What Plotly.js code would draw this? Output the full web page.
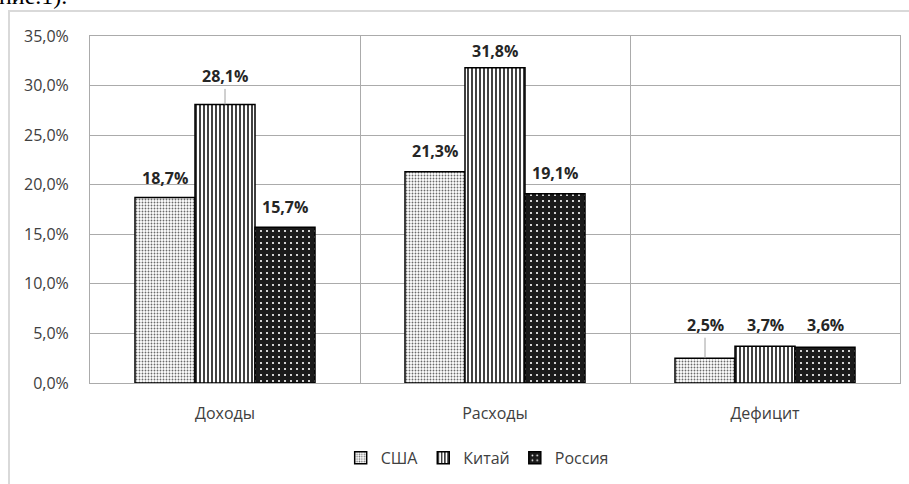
<!DOCTYPE html>
<html>
<head>
<meta charset="utf-8">
<script src="https://cdn.plot.ly/plotly-3.0.1.min.js"></script>
<style>
html,body{margin:0;padding:0;background:#fff;}
#chart{width:909px;height:484px;}
</style>
</head>
<body>
<div id="chart"></div>
<script>
// ---- data ----
var categories = ['Доходы', 'Расходы', 'Дефицит'];
var seriesNames = ['США', 'Китай', 'Россия'];
var usa = [18.7, 21.3, 2.5];
var china = [28.1, 31.8, 3.7];
var russia = [15.7, 19.1, 3.6];
var yTicks = [0, 5, 10, 15, 20, 25, 30, 35];

// ---- styles ----
var patterns = [
  {shape: '.', bgcolor: '#ffffff', fgcolor: '#6a6a6a', size: 3, solidity: 0.3, fillmode: 'replace'},
  {shape: '|', bgcolor: '#ffffff', fgcolor: '#111111', size: 4, solidity: 0.4, fillmode: 'replace'},
  {shape: '.', bgcolor: '#1a1a1a', fgcolor: '#ffffff', size: 6, solidity: 0.1, fillmode: 'replace'}
];
var allSeries = [usa, china, russia];
var barShift = [-60, 0, 60];        // pixel offset of each series within a group
// label lift (px above bar top); leader line when lifted further
var labelLift = [[20, 21, 33], [28, 17, 21], [20, 21, 22]];
var leader = [[false, false, true], [true, false, false], [false, false, false]];

var traces = allSeries.map(function (vals, i) {
  return {
    type: 'bar',
    name: seriesNames[i],
    x: categories,
    y: vals,
    marker: {color: patterns[i].bgcolor, pattern: patterns[i], line: {color: '#000', width: 1.5}},
    hoverinfo: 'none'
  };
});

function fmt(v) { return v.toFixed(1).replace('.', ',') + '%'; }

var annotations = [];
allSeries.forEach(function (vals, i) {
  vals.forEach(function (v, j) {
    var a = {
      x: categories[j], y: v, xref: 'x', yref: 'y',
      text: '<b>' + fmt(v) + '</b>',
      font: {family: 'Open Sans, Noto Sans, sans-serif', size: 16, color: '#262626'},
      xshift: barShift[i]
    };
    if (leader[i][j]) {
      a.showarrow = true; a.ax = 0; a.ay = -labelLift[i][j];
      a.arrowhead = 0; a.arrowwidth = 1; a.arrowcolor = '#a0a0a0'; a.standoff = 0;
    } else {
      a.showarrow = false; a.yanchor = 'middle'; a.yshift = labelLift[i][j];
    }
    annotations.push(a);
  });
});
// cut-off document text at the very top
annotations.push({
  xref: 'paper', yref: 'paper', x: -0.115, y: 1.072, xanchor: 'left', yanchor: 'bottom',
  text: 'ние.1).', showarrow: false,
  font: {family: 'Liberation Serif, DejaVu Serif, serif', size: 24, color: '#000'}
});

var layout = {
  width: 909, height: 484,
  margin: {l: 90, r: 9, t: 36, b: 101},
  paper_bgcolor: '#fff', plot_bgcolor: '#fff',
  bargap: 1 / 3, bargroupgap: 0, barmode: 'group',
  font: {family: 'Open Sans, Noto Sans, sans-serif', size: 16, color: '#404040'},
  xaxis: {
    type: 'category', tickson: 'boundaries', showgrid: true, gridcolor: '#ababab', gridwidth: 1,
    ticks: '', showline: true, mirror: true, linecolor: '#ababab', linewidth: 1,
    zeroline: false, ticklabelstandoff: 16,
    tickfont: {size: 16, color: '#404040'}
  },
  yaxis: {
    range: [0, 35], tickvals: yTicks, ticktext: yTicks.map(function (t) { return t.toFixed(1).replace('.', ',') + '%'; }),
    showgrid: true, gridcolor: '#ababab', gridwidth: 1, zeroline: false,
    showline: true, mirror: true, linecolor: '#ababab', linewidth: 1,
    ticks: '', ticklabelstandoff: 17, tickfont: {size: 16, color: '#404040'}
  },
  showlegend: true,
  legend: {
    orientation: 'h', x: 0.478, xanchor: 'center', y: -0.216, yanchor: 'middle',
    font: {size: 16, color: '#404040'}, itemwidth: 30, tracegroupgap: 0
  },
  annotations: annotations,
  shapes: [{
    type: 'rect', xref: 'paper', yref: 'paper', x0: -0.1, x1: 1.05, y0: -0.4, y1: 1.072,
    line: {color: '#d9d9d9', width: 2}, fillcolor: 'rgba(0,0,0,0)', layer: 'below'
  }]
};

Plotly.newPlot('chart', traces, layout, {staticPlot: true});
</script>
</body>
</html>
